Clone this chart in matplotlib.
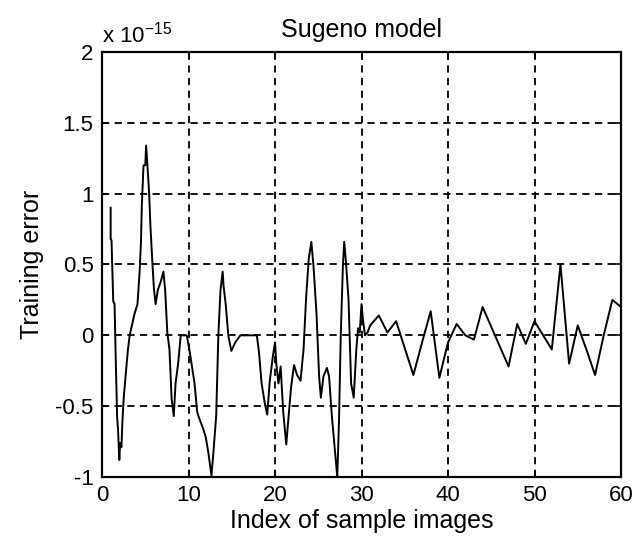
import matplotlib
matplotlib.use('Agg')
import matplotlib.pyplot as plt

plt.rcParams['font.family'] = ['Liberation Sans', 'DejaVu Sans']
plt.rcParams['mathtext.fontset'] = 'custom'
plt.rcParams['mathtext.rm'] = 'Liberation Sans'
plt.rcParams['mathtext.it'] = 'Liberation Sans'

# training error (units of 1e-15)
x_first = [1.0, 1.0, 1.1, 1.3, 1.45, 1.6, 1.75, 1.85, 2.0, 2.1, 2.25, 2.35, 2.5,
           2.75, 3.0, 3.2, 3.5, 3.75, 4.1, 4.35, 4.5, 4.6, 4.8, 5.0, 5.1, 5.25,
           5.45, 5.6, 5.8, 6.0, 6.2, 6.45, 6.8, 7.1, 7.3, 7.55, 7.8, 8.05, 8.3,
           8.5, 8.8, 9.1, 9.8, 10.1, 10.35, 10.7, 11.0, 11.2, 11.7, 12.0, 12.3,
           12.65, 12.85, 13.2, 13.45, 13.7, 13.95, 14.05, 14.3, 14.6, 14.95,
           15.4, 16.0, 17.9, 18.15, 18.45, 18.85, 19.1, 19.4, 19.75, 20.0,
           20.15, 20.4, 20.65, 20.95, 21.3, 21.55, 21.85, 22.2, 22.55, 22.95,
           23.3, 23.6, 23.9, 24.2, 24.45, 24.8, 25.1, 25.3, 25.6, 26.0, 26.25,
           26.6, 26.95, 27.2, 27.4, 27.6, 27.85, 28.0, 28.2, 28.5, 28.8, 29.1,
           29.4, 29.6, 29.8, 30.0, 30.15, 30.4, 30.7]
y_first = [0.90, 0.68, 0.67, 0.24, 0.22, -0.20, -0.58, -0.66, -0.88, -0.76,
           -0.79, -0.62, -0.45, -0.27, -0.10, 0.0, 0.08, 0.15, 0.22, 0.45, 0.65,
           0.91, 1.20, 1.20, 1.34, 1.20, 1.0, 0.77, 0.54, 0.33, 0.22, 0.32, 0.38,
           0.45, 0.32, 0.02, -0.10, -0.45, -0.57, -0.34, -0.20, 0.0, 0.0, -0.10,
           -0.20, -0.34, -0.54, -0.58, -0.66, -0.72, -0.83, -0.99, -0.85, -0.57,
           0.0, 0.32, 0.45, 0.35, 0.22, 0.0, -0.11, -0.05, 0.0, 0.0, -0.12,
           -0.34, -0.49, -0.56, -0.32, -0.15, -0.05, -0.20, -0.34, -0.22, -0.54,
           -0.77, -0.59, -0.37, -0.21, -0.28, -0.32, -0.10, 0.27, 0.54, 0.66,
           0.49, 0.15, -0.29, -0.44, -0.29, -0.23, -0.29, -0.59, -0.83, -1.0,
           -0.60, 0.0, 0.49, 0.66, 0.52, 0.25, -0.34, -0.44, -0.10, 0.05, 0.02,
           0.22, 0.12, 0.0, 0.02]

x_second = list(range(31, 61))
y_second = [0.07, 0.14, 0.02, 0.10, -0.09, -0.28, -0.05, 0.17, -0.30, -0.05,
            0.08, 0.0, -0.03, 0.20, 0.06, -0.08, -0.22, 0.08, -0.06, 0.10,
            0.0, -0.10, 0.50, -0.20, 0.07, -0.10, -0.28, 0.0, 0.25, 0.20]

x_vals = x_first + x_second
y_vals = y_first + y_second

xticks = [0, 10, 20, 30, 40, 50, 60]
yticks = [-1, -0.5, 0, 0.5, 1, 1.5, 2]
ytick_labels = ['-1', '-0.5', '0', '0.5', '1', '1.5', '2']

fig = plt.figure(figsize=(6.32, 5.48), dpi=100)
ax = fig.add_axes([0.1614, 0.1296, 0.8212, 0.7755])

ax.plot(x_vals, y_vals, color='black', linewidth=1.4)

ax.set_xlim(0, 60)
ax.set_ylim(-1, 2)
ax.set_xticks(xticks)
ax.set_yticks(yticks)
ax.set_yticklabels(ytick_labels)
ax.tick_params(direction='in', top=True, right=True, length=5, labelsize=16,
               width=1.2, pad=6)
ax.grid(True, color='black', linestyle=(0, (4, 3)), linewidth=1.3)
for s in ax.spines.values():
    s.set_linewidth(1.6)

ax.set_title('Sugeno model', fontsize=18, pad=11)
ax.set_xlabel('Index of sample images', fontsize=18, labelpad=2)
ax.set_ylabel('Training error', fontsize=18, labelpad=8)
ax.text(0.0, 1.01, r'x 10$^{-15}$', transform=ax.transAxes, fontsize=16,
        ha='left', va='bottom')

fig.savefig('out.png', dpi=100)
